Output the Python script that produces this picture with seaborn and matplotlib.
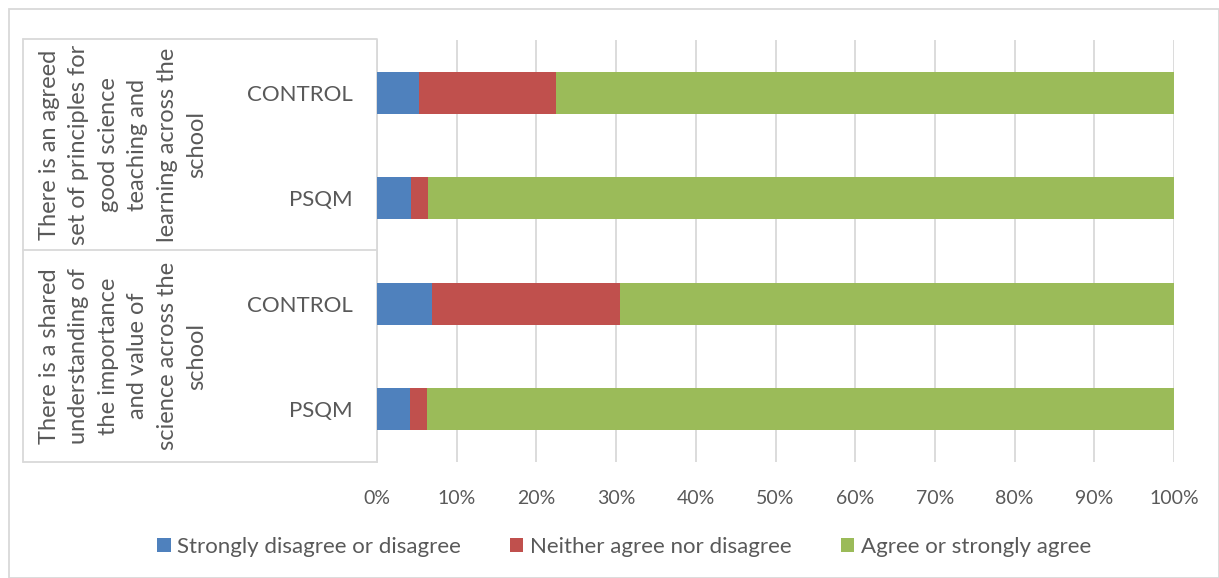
import matplotlib
matplotlib.use("Agg")
import matplotlib.pyplot as plt
import seaborn as sns
import pandas as pd
from matplotlib.patches import Patch, Rectangle
from matplotlib.lines import Line2D

# Survey statements (group labels) and the two school groups per statement
statements = [
    "There is an agreed\nset of principles for\ngood science\nteaching and\nlearning across the\nschool",
    "There is a shared\nunderstanding of\nthe importance\nand value of\nscience across the\nschool",
]
groups = ["CONTROL", "PSQM", "CONTROL", "PSQM"]

# Percentage of responses per answer category (rows top to bottom)
disagree = [5.25, 4.3, 6.9, 4.2]
neutral = [17.15, 2.1, 23.6, 2.05]
agree = [77.6, 93.6, 69.5, 93.75]

series_names = [
    "Strongly disagree or disagree",
    "Neither agree nor disagree",
    "Agree or strongly agree",
]
colors = ["#4F81BD", "#C0504D", "#9BBB59"]
x_ticks = list(range(0, 101, 10))

text_color = "#595959"
grid_color = "#D9D9D9"
font = ["Lato", "DejaVu Sans"]

sns.set_theme(style="white")
plt.rcParams["font.family"] = font

rows = [f"r{i}" for i in range(len(groups))]
df = pd.DataFrame({
    "row": rows,
    "disagree": disagree,
    "neutral": neutral,
    "agree": agree,
})
df["c1"] = df["disagree"]
df["c2"] = df["disagree"] + df["neutral"]
df["c3"] = df["c2"] + df["agree"]

W, H = 1219, 578
fig = plt.figure(figsize=(W / 100, H / 100), dpi=100)
ax = fig.add_axes([377 / W, 1 - 462 / H, (1174 - 377) / W, (462 - 40) / H])

# Stacked bars: draw cumulative totals back to front
for col, c in zip(["c3", "c2", "c1"], colors[::-1]):
    sns.barplot(data=df, x=col, y="row", order=rows, color=c, width=0.4,
                orient="y", ax=ax, saturation=1, edgecolor="none", zorder=3)

ax.set_xlim(0, 100)
ax.set_xticks(x_ticks)
ax.set_xticklabels([f"{t}%" for t in x_ticks], color=text_color, fontsize=14)
ax.set_xlabel("")
ax.set_ylabel("")
ax.xaxis.grid(True, color=grid_color, linewidth=1.3, zorder=0)
ax.set_axisbelow(True)
for s in ["top", "right", "bottom"]:
    ax.spines[s].set_visible(False)
ax.spines["left"].set_color(grid_color)
ax.spines["left"].set_linewidth(1.3)
ax.tick_params(axis="x", length=0, pad=20)
ax.set_yticks(range(len(groups)))
ax.set_yticklabels(groups, color=text_color, fontsize=16)
ax.tick_params(axis="y", length=0, pad=17.5)

# Category table lines to the left of the plot
x0 = 23 / W
x1 = 377 / W
for yp in [39, 250, 462]:
    fig.add_artist(Line2D([x0, x1], [1 - yp / H, 1 - yp / H],
                          color=grid_color, linewidth=1.3))
fig.add_artist(Line2D([x0, x0], [1 - 39 / H, 1 - 462 / H],
                      color=grid_color, linewidth=1.3))

# Rotated statement labels
for text, yc in zip(statements, [144.5, 356]):
    fig.text(123 / W, 1 - yc / H, text, rotation=90, ha="center", va="center",
             multialignment="center", fontsize=17, color=text_color,
             linespacing=1.5)

# Outer chart frame
fig.add_artist(Rectangle((9 / W, 0), 1 - 9 / W, 1 - 9 / H, transform=fig.transFigure,
                         fill=False, edgecolor=grid_color, linewidth=1.3))

handles = [Patch(facecolor=c, edgecolor="none") for c in colors]
fig.legend(handles, series_names, loc="center", bbox_to_anchor=(624 / W, 1 - 547 / H),
           ncol=3, frameon=False, fontsize=16, handlelength=0.6, handleheight=0.6,
           handletextpad=0.3, columnspacing=2.2, labelcolor=text_color)

fig.savefig("out.png", dpi=100)
